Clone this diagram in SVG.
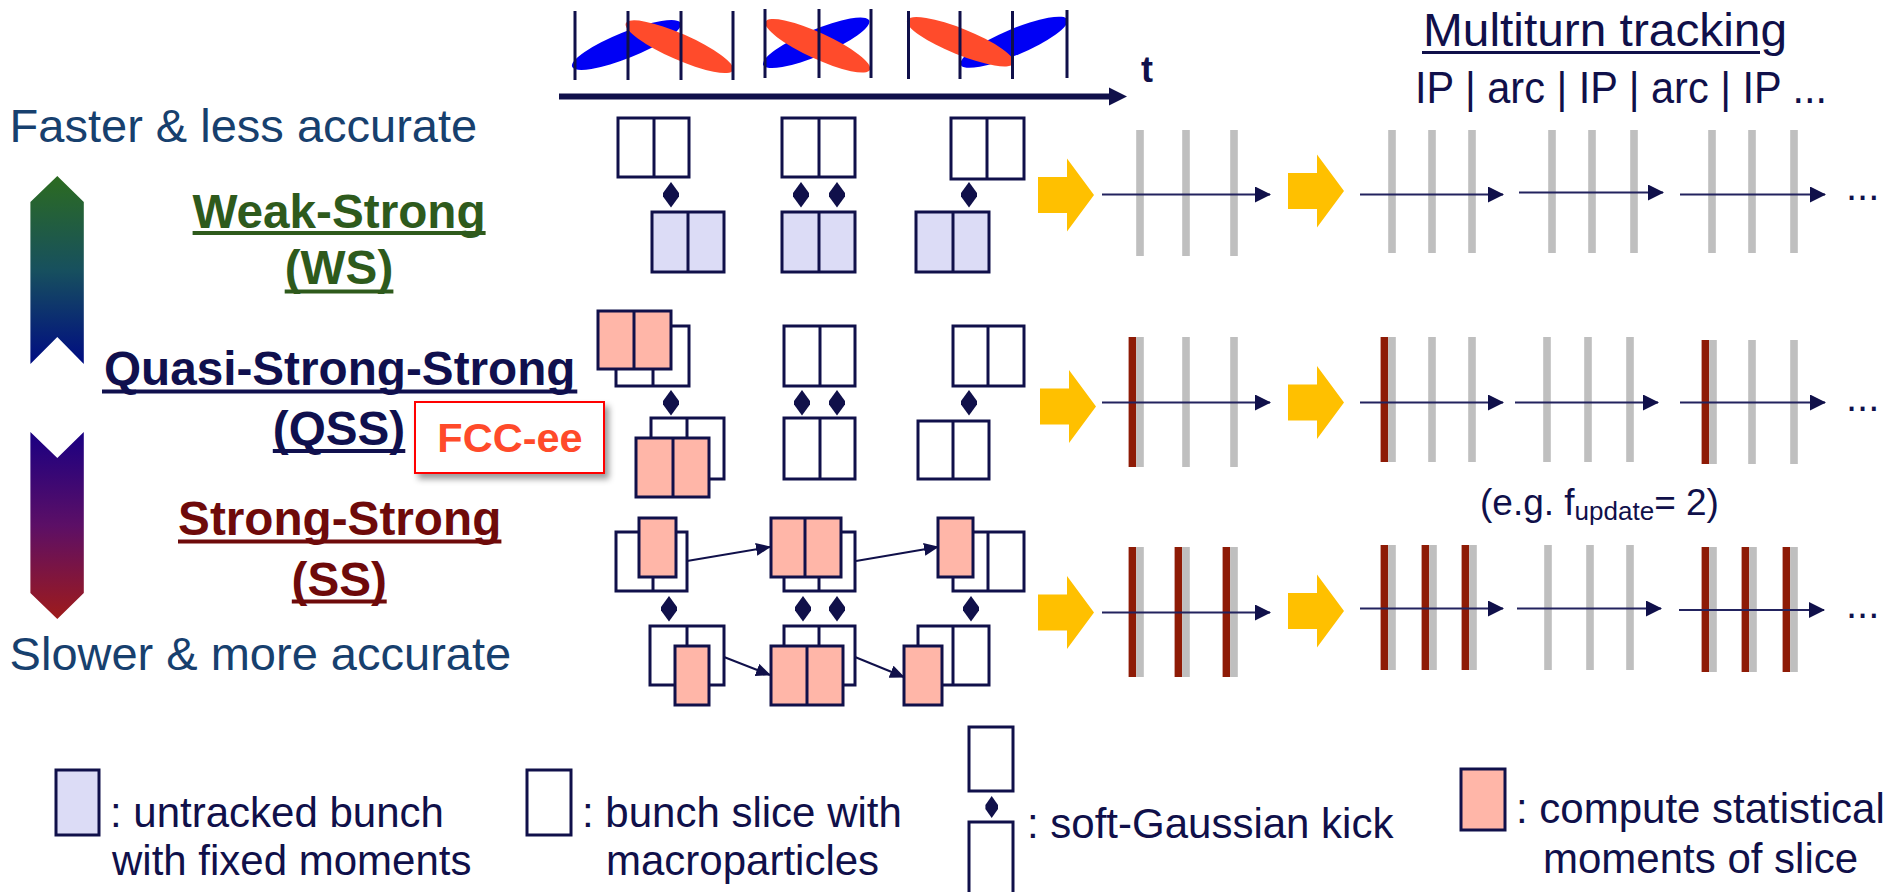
<svg xmlns="http://www.w3.org/2000/svg" width="1883" height="892" viewBox="0 0 1883 892">
<defs>
<style>
.t{font-family:"Liberation Sans",Arial,Helvetica,sans-serif}
.b{font-weight:bold}
.nvf{fill:#10104A}
.sl{stroke:#10104A;stroke-width:3}
.wb{fill:#FFFFFF;stroke:#10104A;stroke-width:3}
.lv{fill:#DCDCF6;stroke:#10104A;stroke-width:3}
.pk{fill:#FFB6A8;stroke:#10104A;stroke-width:3}
.dv{stroke:#10104A;stroke-width:3}
.yel{fill:#FFC000}
.gb{fill:#BFBFBF}
.rb{fill:#8E1B06}
.trk{stroke:#23235F;stroke-width:2.2;fill:none;marker-end:url(#ah)}
.sc{stroke:#10104A;stroke-width:2;fill:none;marker-end:url(#ahs)}
.ul{fill:none;stroke-width:4}
.blue{fill:#0000F5}
.red{fill:#FF4B2B}
.leg{font-size:42px;fill:#10104A}
.side{font-size:47px;fill:#17406E}
</style>
<linearGradient id="gUp" x1="0" y1="0" x2="0" y2="1">
<stop offset="0" stop-color="#2C6B20"/>
<stop offset="0.5" stop-color="#17505E"/>
<stop offset="1" stop-color="#000C82"/>
</linearGradient>
<linearGradient id="gDn" x1="0" y1="0" x2="0" y2="1">
<stop offset="0" stop-color="#1A0082"/>
<stop offset="0.5" stop-color="#5C0F66"/>
<stop offset="1" stop-color="#9E1B1B"/>
</linearGradient>
<marker id="ah" viewBox="0 0 16 16" refX="15" refY="8" markerWidth="16" markerHeight="16" markerUnits="userSpaceOnUse" orient="auto"><path d="M0,0 L16,8 L0,16 Z" fill="#10104A"/></marker>
<marker id="ahs" viewBox="0 0 15 13" refX="14" refY="6.5" markerWidth="15" markerHeight="13" markerUnits="userSpaceOnUse" orient="auto"><path d="M0,0 L15,6.5 L0,13 Z" fill="#10104A"/></marker>
<path id="kick" d="M0,0L8,11L8,14.5L0,25.5L-8,14.5L-8,11Z" fill="#10104A"/>
<filter id="sh" x="-20%" y="-20%" width="140%" height="150%"><feDropShadow dx="4" dy="5" stdDeviation="3" flood-color="#000" flood-opacity="0.4"/></filter>
</defs>
<rect width="1883" height="892" fill="#FFFFFF"/>

<g id="timeline">
<ellipse class="blue" cx="626.4" cy="45" rx="58.5" ry="13" transform="rotate(-21.9 626.4 45)"/>
<ellipse class="red" cx="679.4" cy="46.7" rx="58.5" ry="13" transform="rotate(23.7 679.4 46.7)"/>
<ellipse class="blue" cx="816.2" cy="42.8" rx="57.5" ry="13" transform="rotate(-22.8 816.2 42.8)"/>
<ellipse class="red" cx="817.8" cy="45.8" rx="57.5" ry="13" transform="rotate(24.7 817.8 45.8)"/>
<ellipse class="blue" cx="1014" cy="42.2" rx="58" ry="13" transform="rotate(-22.9 1014 42.2)"/>
<ellipse class="red" cx="960.4" cy="41.7" rx="57.5" ry="13" transform="rotate(22 960.4 41.7)"/>
<path class="sl" d="M575,11V80 M628,11V80 M681,11V80 M733,11V80 M765,9V78 M819,9V78 M871,9V78 M908.5,11V79 M960,11V79 M1012.5,11V79 M1067,10V78"/>
<path d="M559,96.5H1111" stroke="#10104A" stroke-width="6"/>
<polygon points="1109,87.5 1127,96.5 1109,105.5" fill="#10104A"/>
<text class="t b nvf" x="1141" y="82" font-size="36">t</text>
</g>

<g id="heading">
<text class="t nvf" x="1423" y="46" font-size="46" textLength="364" lengthAdjust="spacingAndGlyphs">Multiturn tracking</text>
<path d="M1422,52.5H1760" stroke="#10104A" stroke-width="3"/>
<text class="t nvf" x="1415" y="103" font-size="44" textLength="412" lengthAdjust="spacingAndGlyphs">IP | arc | IP | arc | IP ...</text>
</g>

<g id="speed-scale">
<text class="t side" x="9.6" y="142">Faster &amp; less accurate</text>
<polygon points="30.4,202 57.3,176 83.8,202 83.8,364 57.3,337 30.4,364" fill="url(#gUp)"/>
<polygon points="30.4,432 57.3,458 83.8,432 83.8,593 57.3,619 30.4,593" fill="url(#gDn)"/>
<text class="t side" x="9.6" y="670">Slower &amp; more accurate</text>
</g>

<g id="label-ws" fill="#2E5A1C" stroke="#2E5A1C">
<text class="t b" x="339" y="227.5" font-size="47.7" text-anchor="middle" stroke="none">Weak-Strong</text>
<path class="ul" d="M192.6,233H485.6"/>
<text class="t b" x="339" y="284.4" font-size="47.7" text-anchor="middle" stroke="none">(WS)</text>
<path class="ul" d="M284.7,291.5H393.4"/>
</g>
<g id="label-qss" fill="#10104E" stroke="#10104E">
<text class="t b" x="339.7" y="385" font-size="47.7" text-anchor="middle" stroke="none">Quasi-Strong-Strong</text>
<path class="ul" d="M102,391.5H577.3"/>
<text class="t b" x="339" y="444.8" font-size="47.7" text-anchor="middle" stroke="none">(QSS)</text>
<path class="ul" d="M272.8,451H405.3"/>
</g>
<g id="label-fcc">
<rect x="415" y="402" width="189" height="71" fill="#FFFFFF" stroke="#FF0000" stroke-width="2" filter="url(#sh)"/>
<text class="t b" x="510" y="452" font-size="41.5" text-anchor="middle" fill="#FF4A2A">FCC-ee</text>
</g>
<g id="label-ss" fill="#6E0A0A" stroke="#6E0A0A">
<text class="t b" x="339.7" y="535" font-size="47.7" text-anchor="middle" stroke="none">Strong-Strong</text>
<path class="ul" d="M178,541.5H501.4"/>
<text class="t b" x="339.2" y="596.2" font-size="47.7" text-anchor="middle" stroke="none">(SS)</text>
<path class="ul" d="M291.8,601.5H386.7"/>
</g>

<g id="ws-grid">
<rect class="wb" x="618" y="118" width="71" height="59"/><path class="dv" d="M654,118V177"/>
<rect class="wb" x="782" y="118" width="73" height="59"/><path class="dv" d="M819,118V177"/>
<rect class="wb" x="951" y="118" width="73" height="61"/><path class="dv" d="M987,118V179"/>
<rect class="lv" x="652" y="212" width="72" height="60"/><path class="dv" d="M688,212V272" stroke-width="4"/>
<rect class="lv" x="782" y="212" width="73" height="60"/><path class="dv" d="M819,212V272"/>
<rect class="lv" x="916" y="212" width="73" height="60"/><path class="dv" d="M953,212V272"/>
<use href="#kick" x="671" y="182"/><use href="#kick" x="801" y="182"/><use href="#kick" x="837" y="182"/><use href="#kick" x="969" y="182"/>
</g>

<g id="qss-grid">
<rect class="wb" x="616" y="326" width="73" height="60"/><path class="dv" d="M653,326V386"/>
<rect class="pk" x="598" y="311" width="73" height="58"/><path class="dv" d="M634,311V369"/>
<rect class="wb" x="784" y="326" width="71" height="60"/><path class="dv" d="M820,326V386"/>
<rect class="wb" x="953" y="326" width="71" height="60"/><path class="dv" d="M988,326V386"/>
<rect class="wb" x="651" y="418" width="73" height="61"/><path class="dv" d="M687,418V479"/>
<rect class="pk" x="636" y="438" width="73" height="59"/><path class="dv" d="M673,438V497"/>
<rect class="wb" x="784" y="418" width="71" height="61"/><path class="dv" d="M820,418V479"/>
<rect class="wb" x="918" y="421" width="71" height="58"/><path class="dv" d="M953,421V479"/>
<use href="#kick" x="671" y="390"/><use href="#kick" x="802" y="390"/><use href="#kick" x="837" y="390"/><use href="#kick" x="969" y="390"/>
</g>

<g id="ss-grid">
<rect class="wb" x="616" y="532" width="71" height="59"/><path class="dv" d="M653,532V591"/>
<rect class="pk" x="639" y="518" width="37" height="59"/>
<rect class="wb" x="784" y="532" width="71" height="59"/><path class="dv" d="M819,532V591"/>
<rect class="pk" x="771" y="518" width="70" height="59"/><path class="dv" d="M805,518V577"/>
<rect class="wb" x="953" y="532" width="71" height="59"/><path class="dv" d="M988,532V591"/>
<rect class="pk" x="938" y="518" width="35" height="59"/>
<rect class="wb" x="650" y="626" width="74" height="59"/><path class="dv" d="M687,626V685"/>
<rect class="pk" x="675" y="646" width="34" height="59"/>
<rect class="wb" x="784" y="626" width="71" height="59"/><path class="dv" d="M819,626V685"/>
<rect class="pk" x="771" y="646" width="72" height="59"/><path class="dv" d="M807,646V705"/>
<rect class="wb" x="918" y="626" width="71" height="59"/><path class="dv" d="M953,626V685"/>
<rect class="pk" x="904" y="646" width="38" height="59"/>
<use href="#kick" x="669" y="596"/><use href="#kick" x="803" y="596"/><use href="#kick" x="837" y="596"/><use href="#kick" x="971" y="596"/>
</g>

<g id="connectors">
<path class="sc" d="M687,561L770,547"/>
<path class="sc" d="M856,561L938,547"/>
<path class="sc" d="M724,657L770,675"/>
<path class="sc" d="M855,657L904,677"/>
</g>

<g id="ws-track">
<polygon class="yel" points="1038,177 1067,177 1067,158.5 1094,195 1067,231.5 1067,213 1038,213"/>
<polygon class="yel" points="1288,173 1317,173 1317,154.5 1344,191 1317,227.5 1317,209 1288,209"/>
<rect class="gb" x="1136.2" y="130" width="7.6" height="126"/>
<rect class="gb" x="1182.2" y="130" width="7.6" height="126"/>
<rect class="gb" x="1230.2" y="130" width="7.6" height="126"/>
<rect class="gb" x="1388.2" y="130" width="7.6" height="123"/>
<rect class="gb" x="1428.2" y="130" width="7.6" height="123"/>
<rect class="gb" x="1468.2" y="130" width="7.6" height="123"/>
<rect class="gb" x="1548.2" y="130" width="7.6" height="123"/>
<rect class="gb" x="1588.2" y="130" width="7.6" height="123"/>
<rect class="gb" x="1630.2" y="130" width="7.6" height="123"/>
<rect class="gb" x="1708.2" y="130" width="7.6" height="123"/>
<rect class="gb" x="1748.2" y="130" width="7.6" height="123"/>
<rect class="gb" x="1790.2" y="130" width="7.6" height="123"/>
<path class="trk" d="M1102,194.5H1270"/>
<path class="trk" d="M1360,194.5H1503"/>
<path class="trk" d="M1519,192.5H1663"/>
<path class="trk" d="M1680,194.5H1825"/>
<text class="t nvf" x="1846" y="200" font-size="40">...</text>
</g>

<g id="qss-track">
<polygon class="yel" points="1040,388.5 1069,388.5 1069,370 1096,406.5 1069,443 1069,424.5 1040,424.5"/>
<polygon class="yel" points="1288,384.5 1317,384.5 1317,366 1344,402.5 1317,439 1317,420.5 1288,420.5"/>
<rect class="rb" x="1128.6" y="337" width="7.6" height="130"/>
<rect class="gb" x="1136.2" y="337" width="7.6" height="130"/>
<rect class="gb" x="1182.2" y="337" width="7.6" height="130"/>
<rect class="gb" x="1230.2" y="337" width="7.6" height="130"/>
<rect class="rb" x="1380.6" y="337" width="7.6" height="125"/>
<rect class="gb" x="1388.2" y="337" width="7.6" height="125"/>
<rect class="gb" x="1428.2" y="337" width="7.6" height="125"/>
<rect class="gb" x="1468.2" y="337" width="7.6" height="125"/>
<rect class="gb" x="1543.2" y="337" width="7.6" height="125"/>
<rect class="gb" x="1584.2" y="337" width="7.6" height="125"/>
<rect class="gb" x="1626.2" y="337" width="7.6" height="125"/>
<rect class="rb" x="1701.6" y="340" width="7.6" height="124"/>
<rect class="gb" x="1709.2" y="340" width="7.6" height="124"/>
<rect class="gb" x="1748.2" y="340" width="7.6" height="124"/>
<rect class="gb" x="1790.2" y="340" width="7.6" height="124"/>
<path class="trk" d="M1102,402.5H1270"/>
<path class="trk" d="M1360,402.5H1503"/>
<path class="trk" d="M1515,402.5H1658"/>
<path class="trk" d="M1680,402.5H1825"/>
<text class="t nvf" x="1846" y="411" font-size="40">...</text>
<text class="t nvf" x="1480" y="515" font-size="37">(e.g. f<tspan font-size="26" dy="5">update</tspan><tspan dy="-5">= 2)</tspan></text>
</g>

<g id="ss-track">
<polygon class="yel" points="1038,594.5 1067,594.5 1067,576 1094,612.5 1067,649 1067,630.5 1038,630.5"/>
<polygon class="yel" points="1288,593 1317,593 1317,574.5 1344,611 1317,647.5 1317,629 1288,629"/>
<rect class="rb" x="1128.6" y="547" width="7.6" height="130"/>
<rect class="gb" x="1136.2" y="547" width="7.6" height="130"/>
<rect class="rb" x="1174.6" y="547" width="7.6" height="130"/>
<rect class="gb" x="1182.2" y="547" width="7.6" height="130"/>
<rect class="rb" x="1222.6" y="547" width="7.6" height="130"/>
<rect class="gb" x="1230.2" y="547" width="7.6" height="130"/>
<rect class="rb" x="1380.6" y="545" width="7.6" height="125"/>
<rect class="gb" x="1388.2" y="545" width="7.6" height="125"/>
<rect class="rb" x="1421.6" y="545" width="7.6" height="125"/>
<rect class="gb" x="1429.2" y="545" width="7.6" height="125"/>
<rect class="rb" x="1461.6" y="545" width="7.6" height="125"/>
<rect class="gb" x="1469.2" y="545" width="7.6" height="125"/>
<rect class="gb" x="1544.2" y="545" width="7.6" height="125"/>
<rect class="gb" x="1586.2" y="545" width="7.6" height="125"/>
<rect class="gb" x="1626.2" y="545" width="7.6" height="125"/>
<rect class="rb" x="1701.6" y="547" width="7.6" height="125"/>
<rect class="gb" x="1709.2" y="547" width="7.6" height="125"/>
<rect class="rb" x="1741.6" y="547" width="7.6" height="125"/>
<rect class="gb" x="1749.2" y="547" width="7.6" height="125"/>
<rect class="rb" x="1782.6" y="547" width="7.6" height="125"/>
<rect class="gb" x="1790.2" y="547" width="7.6" height="125"/>
<path class="trk" d="M1102,612.5H1270"/>
<path class="trk" d="M1360,608.5H1503"/>
<path class="trk" d="M1517,608.5H1661"/>
<path class="trk" d="M1679,610H1824"/>
<text class="t nvf" x="1846" y="618" font-size="40">...</text>
</g>

<g id="legend-untracked">
<rect class="lv" x="56" y="770" width="43" height="65" stroke-width="2.5"/>
<text class="t leg" x="110" y="827">: untracked bunch</text>
<text class="t leg" x="112" y="875">with fixed moments</text>
</g>
<g id="legend-slice">
<rect class="wb" x="527" y="770" width="44" height="65" stroke-width="2.5"/>
<text class="t leg" x="582" y="827">: bunch slice with</text>
<text class="t leg" x="606" y="875">macroparticles</text>
</g>
<g id="legend-kick">
<rect class="wb" x="969" y="727" width="44" height="64" stroke-width="2.5"/>
<path class="nvf" d="M991.7,796L998,805L998,809L991.7,818L985.4,809L985.4,805Z"/>
<rect class="wb" x="969" y="822" width="44" height="80" stroke-width="2.5"/>
<text class="t leg" x="1027" y="838">: soft-Gaussian kick</text>
</g>
<g id="legend-moments">
<rect class="pk" x="1461" y="769" width="44" height="61" stroke-width="2.5"/>
<text class="t leg" x="1516" y="823">: compute statistical</text>
<text class="t leg" x="1543" y="873">moments of slice</text>
</g>
</svg>
